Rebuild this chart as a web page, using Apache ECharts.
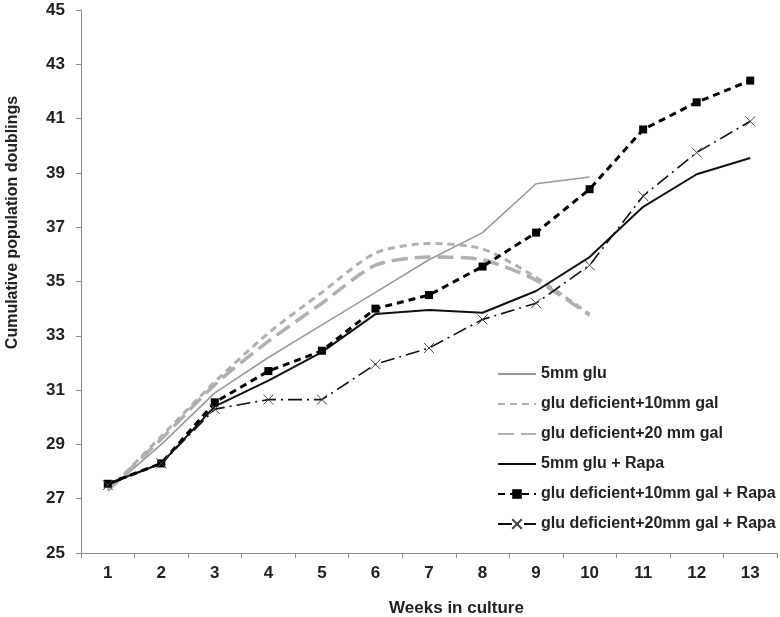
<!DOCTYPE html>
<html>
<head>
<meta charset="utf-8">
<script src="https://cdn.jsdelivr.net/npm/echarts@6/dist/echarts.min.js"></script>
<style>html,body{margin:0;padding:0;background:#fff}#c{width:780px;height:617px}</style>
</head>
<body>
<div id="c"></div>
<script>
var weeks = ['1','2','3','4','5','6','7','8','9','10','11','12','13'];
var yTicks = [25,27,29,31,33,35,37,39,41,43,45];
var names = ['5mm glu','glu deficient+10mm gal','glu deficient+20 mm gal','5mm glu + Rapa','glu deficient+10mm gal + Rapa','glu deficient+20mm gal + Rapa'];
var glu5 = [27.3, 29.0, 30.9, 32.2, 33.4, 34.6, 35.8, 36.8, 38.6, 38.85];
var gal10 = [27.3, 29.3, 31.3, 33.1, 34.6, 36.05, 36.4, 36.2, 35.15, 33.8];
var gal20 = [27.3, 29.2, 31.2, 32.8, 34.2, 35.6, 35.9, 35.8, 35.05, 33.75];
var glu5Rapa = [27.55, 28.3, 30.4, 31.35, 32.4, 33.8, 33.95, 33.85, 34.65, 35.9, 37.75, 38.95, 39.55];
var gal10Rapa = [27.55, 28.3, 30.55, 31.7, 32.45, 34.0, 34.5, 35.55, 36.8, 38.4, 40.6, 41.6, 42.4];
var gal20Rapa = [27.5, 28.3, 30.3, 30.65, 30.65, 31.95, 32.55, 33.6, 34.2, 35.6, 38.15, 39.75, 40.9];

var chart = echarts.init(document.getElementById('c'), null, {renderer:'canvas'});
var font = 'Liberation Sans, Arial, sans-serif';
var hidden = {opacity: 0};
var option = {
  animation: false,
  backgroundColor: '#fff',
  grid: {left: 81, right: 3, top: 10, bottom: 64, outerBoundsMode: 'none'},
  legend: {
    orient: 'vertical', left: 497, top: 366, padding: 0,
    itemWidth: 38, itemHeight: 12, itemGap: 14,
    textStyle: {fontFamily: font, fontWeight: 'bold', fontSize: 16, color: '#222', lineHeight: 16},
    data: [
      {name: names[0], itemStyle: hidden},
      {name: names[1], itemStyle: hidden},
      {name: names[2], itemStyle: hidden},
      {name: names[3], itemStyle: hidden},
      {name: names[4]},
      {name: names[5]}
    ]
  },
  xAxis: {
    type: 'category', data: weeks, boundaryGap: true,
    name: 'Weeks in culture', nameLocation: 'middle', nameGap: 47,
    nameTextStyle: {fontFamily: font, fontWeight: 'bold', fontSize: 17, color: '#222', padding: [0,0,0,55]},
    axisLine: {lineStyle: {color: '#8c8c8c', width: 1}},
    axisTick: {show: true, length: 5, lineStyle: {color: '#8c8c8c'}},
    axisLabel: {fontFamily: font, fontWeight: 'bold', fontSize: 17, color: '#222', margin: 12},
    splitLine: {show: false}
  },
  yAxis: {
    type: 'value', min: 25, max: 45, interval: 2,
    name: 'Cumulative population doublings', nameLocation: 'middle', nameGap: 60, nameRotate: 90,
    nameTextStyle: {fontFamily: font, fontWeight: 'bold', fontSize: 16, color: '#222', padding: [0,0,0,118]},
    axisLine: {show: true, lineStyle: {color: '#8c8c8c', width: 1}},
    axisTick: {show: true, length: 5, lineStyle: {color: '#8c8c8c'}},
    axisLabel: {fontFamily: font, fontWeight: 'bold', fontSize: 17, color: '#222', margin: 16,
      formatter: function(v){ return yTicks.indexOf(v) >= 0 ? String(v) : ''; }},
    splitLine: {show: false}
  },
  series: [
    {name: names[0], type: 'line', data: glu5, symbol: 'none', color: '#999',
     lineStyle: {color: '#999', width: 1.6, type: 'solid'}},
    {name: names[1], type: 'line', data: gal10, symbol: 'none', smooth: 0.25, color: '#b0b0b0',
     lineStyle: {color: '#b0b0b0', width: 3, type: [7, 5]}},
    {name: names[2], type: 'line', data: gal20, symbol: 'none', smooth: 0.25, color: '#b0b0b0',
     lineStyle: {color: '#b0b0b0', width: 3.5, type: [16, 7]}},
    {name: names[3], type: 'line', data: glu5Rapa, symbol: 'none', color: '#111',
     lineStyle: {color: '#111', width: 2, type: 'solid'}},
    {name: names[4], type: 'line', data: gal10Rapa, symbol: 'rect', symbolSize: 8, color: '#000',
     itemStyle: {color: '#000'},
     lineStyle: {color: '#000', width: 3, type: [7, 5]}},
    {name: names[5], type: 'line', data: gal20Rapa, symbol: 'path://M0,0L10,10M10,0L0,10', symbolSize: 10,
     color: '#222', itemStyle: {color: 'rgba(0,0,0,0)', borderColor: '#444', borderWidth: 1},
     lineStyle: {color: '#111', width: 1.6, type: [14, 5, 2, 5]}}
  ]
};
chart.setOption(option);
</script>
</body>
</html>
